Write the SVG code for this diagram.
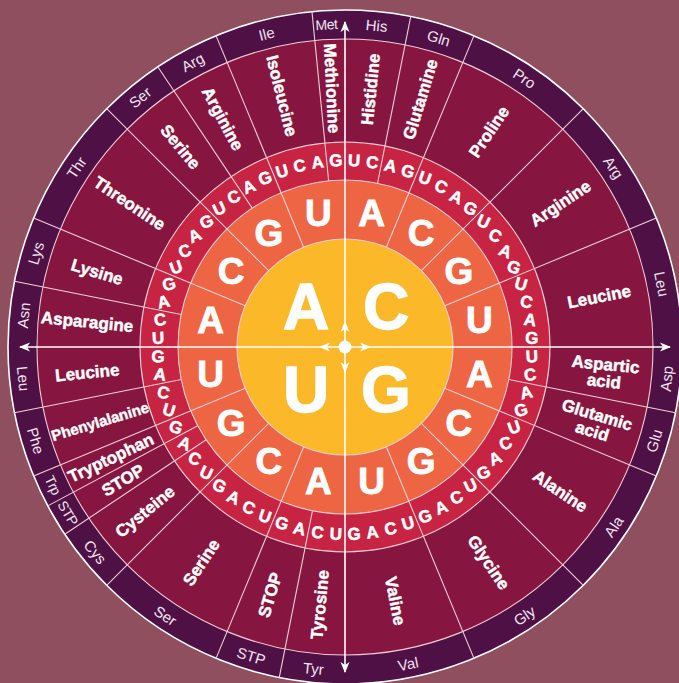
<svg xmlns="http://www.w3.org/2000/svg" width="679" height="683" viewBox="0 0 679 683">
<style>
.nm{font-family:"Liberation Sans",Arial,sans-serif;font-weight:bold;font-size:17px;fill:#fff;stroke:#fff;stroke-width:0.45;text-anchor:middle}
.ab{font-family:"Liberation Sans",Arial,sans-serif;font-size:15px;fill:#f1e4ee;text-anchor:middle}
.nr{font-size:14px;letter-spacing:-0.4px}
.l3{font-family:"Liberation Sans",Arial,sans-serif;font-weight:bold;font-size:17px;fill:#fff;stroke:#fff;stroke-width:0.5;text-anchor:middle}
.l2{font-family:"Liberation Sans",Arial,sans-serif;font-weight:bold;font-size:37px;fill:#fff;stroke:#fff;stroke-width:0.9;text-anchor:middle}
.l1{font-family:"Liberation Sans",Arial,sans-serif;font-weight:bold;font-size:64px;fill:#fff;stroke:#fff;stroke-width:1.4;text-anchor:middle}
.dv{stroke:#f3cdd6;stroke-width:1.1;fill:none}
.rg{stroke:#f3cdd6;stroke-width:1.1}
.ax{stroke:#fff;stroke-width:1.6}
.ah{fill:#fff}
</style>
<defs>
<path id="ah" d="M0,0 L4.5,11 L0,8 L-4.5,11 Z"/>
</defs>
<rect width="679" height="683" fill="#8f4f5e"/>
<g id="rings">
<circle cx="345" cy="347" r="337" fill="#4f1046" stroke="#fff" stroke-width="1.6"/>
<circle class="rg" cx="345" cy="347" r="308" fill="#86163f"/>
<circle class="rg" cx="345" cy="347" r="205" fill="#c72342"/>
<circle class="rg" cx="345" cy="347" r="167" fill="#ee6543"/>
<circle class="rg" cx="345" cy="347" r="108" fill="#fbb92a"/>
</g>
<g id="connectors">
<g class="dv">
<line x1="345" y1="239" x2="345" y2="10" transform="rotate(22.5 345 347)"/>
<line x1="345" y1="239" x2="345" y2="10" transform="rotate(45 345 347)"/>
<line x1="345" y1="239" x2="345" y2="10" transform="rotate(67.5 345 347)"/>
<line x1="345" y1="239" x2="345" y2="10" transform="rotate(112.5 345 347)"/>
<line x1="345" y1="239" x2="345" y2="10" transform="rotate(135 345 347)"/>
<line x1="345" y1="239" x2="345" y2="10" transform="rotate(157.5 345 347)"/>
<line x1="345" y1="239" x2="345" y2="10" transform="rotate(202.5 345 347)"/>
<line x1="345" y1="239" x2="345" y2="10" transform="rotate(225 345 347)"/>
<line x1="345" y1="239" x2="345" y2="10" transform="rotate(247.5 345 347)"/>
<line x1="345" y1="239" x2="345" y2="10" transform="rotate(292.5 345 347)"/>
<line x1="345" y1="239" x2="345" y2="10" transform="rotate(315 345 347)"/>
<line x1="345" y1="239" x2="345" y2="10" transform="rotate(337.5 345 347)"/>
<line x1="345" y1="180" x2="345" y2="10" transform="rotate(11.25 345 347)"/>
<line x1="345" y1="180" x2="345" y2="10" transform="rotate(101.25 345 347)"/>
<line x1="345" y1="180" x2="345" y2="10" transform="rotate(191.25 345 347)"/>
<line x1="345" y1="180" x2="345" y2="10" transform="rotate(236.25 345 347)"/>
<line x1="345" y1="180" x2="345" y2="10" transform="rotate(241.875 345 347)"/>
<line x1="345" y1="180" x2="345" y2="10" transform="rotate(258.75 345 347)"/>
<line x1="345" y1="180" x2="345" y2="10" transform="rotate(281.25 345 347)"/>
<line x1="345" y1="180" x2="345" y2="10" transform="rotate(326.25 345 347)"/>
<line x1="345" y1="180" x2="345" y2="10" transform="rotate(354.375 345 347)"/>
</g>
<g id="axes">
<line class="ax" x1="345" y1="22" x2="345" y2="672"/>
<line class="ax" x1="20" y1="347" x2="670" y2="347"/>
<circle cx="345" cy="347" r="6.5" fill="#fff"/>
<use class="ah" href="#ah" transform="translate(345 321)"/>
<use class="ah" href="#ah" transform="rotate(90 345 347) translate(345 321)"/>
<use class="ah" href="#ah" transform="rotate(180 345 347) translate(345 321)"/>
<use class="ah" href="#ah" transform="rotate(270 345 347) translate(345 321)"/>
<use class="ah" href="#ah" transform="translate(345 21)"/>
<use class="ah" href="#ah" transform="rotate(90 345 347) translate(345 21)"/>
<use class="ah" href="#ah" transform="rotate(180 345 347) translate(345 21)"/>
<use class="ah" href="#ah" transform="rotate(270 345 347) translate(345 21)"/>
</g>
</g>
<g id="first-letter">
<text class="l1" x="306" y="329">A</text>
<text class="l1" x="386" y="329">C</text>
<text class="l1" x="306" y="412">U</text>
<text class="l1" x="386" y="412">G</text>
</g>
<g id="second-letter">
<text class="l2" y="13" transform="rotate(11.25 345 347) translate(345 210) rotate(-11.25)">A</text>
<text class="l2" y="13" transform="rotate(33.75 345 347) translate(345 210) rotate(-33.75)">C</text>
<text class="l2" y="13" transform="rotate(56.25 345 347) translate(345 210) rotate(-56.25)">G</text>
<text class="l2" y="13" transform="rotate(78.75 345 347) translate(345 210) rotate(-78.75)">U</text>
<text class="l2" y="13" transform="rotate(101.25 345 347) translate(345 210) rotate(-101.25)">A</text>
<text class="l2" y="13" transform="rotate(123.75 345 347) translate(345 210) rotate(-123.75)">C</text>
<text class="l2" y="13" transform="rotate(146.25 345 347) translate(345 210) rotate(-146.25)">G</text>
<text class="l2" y="13" transform="rotate(168.75 345 347) translate(345 210) rotate(-168.75)">U</text>
<text class="l2" y="13" transform="rotate(191.25 345 347) translate(345 210) rotate(-191.25)">A</text>
<text class="l2" y="13" transform="rotate(213.75 345 347) translate(345 210) rotate(-213.75)">C</text>
<text class="l2" y="13" transform="rotate(236.25 345 347) translate(345 210) rotate(-236.25)">G</text>
<text class="l2" y="13" transform="rotate(258.75 345 347) translate(345 210) rotate(-258.75)">U</text>
<text class="l2" y="13" transform="rotate(281.25 345 347) translate(345 210) rotate(-281.25)">A</text>
<text class="l2" y="13" transform="rotate(303.75 345 347) translate(345 210) rotate(-303.75)">C</text>
<text class="l2" y="13" transform="rotate(326.25 345 347) translate(345 210) rotate(-326.25)">G</text>
<text class="l2" y="13" transform="rotate(348.75 345 347) translate(345 210) rotate(-348.75)">U</text>
</g>
<g id="third-letter">
<text class="l3" y="6" transform="rotate(2.8125 345 347) translate(345 160) rotate(-0.3)">U</text>
<text class="l3" y="6" transform="rotate(8.4375 345 347) translate(345 160) rotate(-1.1)">C</text>
<text class="l3" y="6" transform="rotate(14.0625 345 347) translate(345 160) rotate(-2.3)">A</text>
<text class="l3" y="6" transform="rotate(19.6875 345 347) translate(345 160) rotate(-3.8)">G</text>
<text class="l3" y="6" transform="rotate(25.3125 345 347) translate(345 160) rotate(-6.0)">U</text>
<text class="l3" y="6" transform="rotate(30.9375 345 347) translate(345 160) rotate(-8.9)">C</text>
<text class="l3" y="6" transform="rotate(36.5625 345 347) translate(345 160) rotate(-12.7)">A</text>
<text class="l3" y="6" transform="rotate(42.1875 345 347) translate(345 160) rotate(-17.3)">G</text>
<text class="l3" y="6" transform="rotate(47.8125 345 347) translate(345 160) rotate(-22.9)">U</text>
<text class="l3" y="6" transform="rotate(53.4375 345 347) translate(345 160) rotate(-29.5)">C</text>
<text class="l3" y="6" transform="rotate(59.0625 345 347) translate(345 160) rotate(-37.1)">A</text>
<text class="l3" y="6" transform="rotate(64.6875 345 347) translate(345 160) rotate(-45.4)">G</text>
<text class="l3" y="6" transform="rotate(70.3125 345 347) translate(345 160) rotate(-54.4)">U</text>
<text class="l3" y="6" transform="rotate(75.9375 345 347) translate(345 160) rotate(-64.1)">C</text>
<text class="l3" y="6" transform="rotate(81.5625 345 347) translate(345 160) rotate(-74.3)">A</text>
<text class="l3" y="6" transform="rotate(87.1875 345 347) translate(345 160) rotate(-84.7)">G</text>
<text class="l3" y="6" transform="rotate(92.8125 345 347) translate(345 160) rotate(-95.3)">U</text>
<text class="l3" y="6" transform="rotate(98.4375 345 347) translate(345 160) rotate(-105.7)">C</text>
<text class="l3" y="6" transform="rotate(104.0625 345 347) translate(345 160) rotate(-115.9)">A</text>
<text class="l3" y="6" transform="rotate(109.6875 345 347) translate(345 160) rotate(-125.6)">G</text>
<text class="l3" y="6" transform="rotate(115.3125 345 347) translate(345 160) rotate(-134.6)">U</text>
<text class="l3" y="6" transform="rotate(120.9375 345 347) translate(345 160) rotate(-142.9)">C</text>
<text class="l3" y="6" transform="rotate(126.5625 345 347) translate(345 160) rotate(-150.5)">A</text>
<text class="l3" y="6" transform="rotate(132.1875 345 347) translate(345 160) rotate(-157.1)">G</text>
<text class="l3" y="6" transform="rotate(137.8125 345 347) translate(345 160) rotate(-162.7)">U</text>
<text class="l3" y="6" transform="rotate(143.4375 345 347) translate(345 160) rotate(-167.3)">C</text>
<text class="l3" y="6" transform="rotate(149.0625 345 347) translate(345 160) rotate(-171.1)">A</text>
<text class="l3" y="6" transform="rotate(154.6875 345 347) translate(345 160) rotate(-174.0)">G</text>
<text class="l3" y="6" transform="rotate(160.3125 345 347) translate(345 160) rotate(-176.2)">U</text>
<text class="l3" y="6" transform="rotate(165.9375 345 347) translate(345 160) rotate(-177.7)">C</text>
<text class="l3" y="6" transform="rotate(171.5625 345 347) translate(345 160) rotate(-178.9)">A</text>
<text class="l3" y="6" transform="rotate(177.1875 345 347) translate(345 160) rotate(-179.7)">G</text>
<text class="l3" y="6" transform="rotate(182.8125 345 347) translate(345 160) rotate(-180.3)">U</text>
<text class="l3" y="6" transform="rotate(188.4375 345 347) translate(345 160) rotate(-181.1)">C</text>
<text class="l3" y="6" transform="rotate(194.0625 345 347) translate(345 160) rotate(-182.3)">A</text>
<text class="l3" y="6" transform="rotate(199.6875 345 347) translate(345 160) rotate(-183.8)">G</text>
<text class="l3" y="6" transform="rotate(205.3125 345 347) translate(345 160) rotate(-186.0)">U</text>
<text class="l3" y="6" transform="rotate(210.9375 345 347) translate(345 160) rotate(-188.9)">C</text>
<text class="l3" y="6" transform="rotate(216.5625 345 347) translate(345 160) rotate(-192.7)">A</text>
<text class="l3" y="6" transform="rotate(222.1875 345 347) translate(345 160) rotate(-197.3)">G</text>
<text class="l3" y="6" transform="rotate(227.8125 345 347) translate(345 160) rotate(-202.9)">U</text>
<text class="l3" y="6" transform="rotate(233.4375 345 347) translate(345 160) rotate(-209.5)">C</text>
<text class="l3" y="6" transform="rotate(239.0625 345 347) translate(345 160) rotate(-217.1)">A</text>
<text class="l3" y="6" transform="rotate(244.6875 345 347) translate(345 160) rotate(-225.4)">G</text>
<text class="l3" y="6" transform="rotate(250.3125 345 347) translate(345 160) rotate(-234.4)">U</text>
<text class="l3" y="6" transform="rotate(255.9375 345 347) translate(345 160) rotate(-244.1)">C</text>
<text class="l3" y="6" transform="rotate(261.5625 345 347) translate(345 160) rotate(-254.3)">A</text>
<text class="l3" y="6" transform="rotate(267.1875 345 347) translate(345 160) rotate(-264.7)">G</text>
<text class="l3" y="6" transform="rotate(272.8125 345 347) translate(345 160) rotate(-275.3)">U</text>
<text class="l3" y="6" transform="rotate(278.4375 345 347) translate(345 160) rotate(-285.7)">C</text>
<text class="l3" y="6" transform="rotate(284.0625 345 347) translate(345 160) rotate(-295.9)">A</text>
<text class="l3" y="6" transform="rotate(289.6875 345 347) translate(345 160) rotate(-305.6)">G</text>
<text class="l3" y="6" transform="rotate(295.3125 345 347) translate(345 160) rotate(-314.6)">U</text>
<text class="l3" y="6" transform="rotate(300.9375 345 347) translate(345 160) rotate(-322.9)">C</text>
<text class="l3" y="6" transform="rotate(306.5625 345 347) translate(345 160) rotate(-330.5)">A</text>
<text class="l3" y="6" transform="rotate(312.1875 345 347) translate(345 160) rotate(-337.1)">G</text>
<text class="l3" y="6" transform="rotate(317.8125 345 347) translate(345 160) rotate(-342.7)">U</text>
<text class="l3" y="6" transform="rotate(323.4375 345 347) translate(345 160) rotate(-347.3)">C</text>
<text class="l3" y="6" transform="rotate(329.0625 345 347) translate(345 160) rotate(-351.1)">A</text>
<text class="l3" y="6" transform="rotate(334.6875 345 347) translate(345 160) rotate(-354.0)">G</text>
<text class="l3" y="6" transform="rotate(340.3125 345 347) translate(345 160) rotate(-356.2)">U</text>
<text class="l3" y="6" transform="rotate(345.9375 345 347) translate(345 160) rotate(-357.7)">C</text>
<text class="l3" y="6" transform="rotate(351.5625 345 347) translate(345 160) rotate(-358.9)">A</text>
<text class="l3" y="6" transform="rotate(357.1875 345 347) translate(345 160) rotate(-359.7)">G</text>
</g>
<g id="amino-acids">
<text class="nm" x="604" y="353" transform="rotate(-84.375 345 347)">Histidine</text>
<text class="nm" x="604" y="353" transform="rotate(-73.125 345 347)">Glutamine</text>
<text class="nm" x="604" y="353" transform="rotate(-56.25 345 347)">Proline</text>
<text class="nm" x="604" y="353" transform="rotate(-33.75 345 347)">Arginine</text>
<text class="nm" x="604" y="353" transform="rotate(-11.25 345 347)">Leucine</text>
<g transform="rotate(5.625 345 347)"><text class="nm" x="606" y="344.5">Aspartic</text><text class="nm" x="606" y="361.5">acid</text></g>
<g transform="rotate(16.875 345 347)"><text class="nm" x="606" y="344.5">Glutamic</text><text class="nm" x="606" y="361.5">acid</text></g>
<text class="nm" x="604" y="353" transform="rotate(33.75 345 347)">Alanine</text>
<text class="nm" x="604" y="353" transform="rotate(56.25 345 347)">Glycine</text>
<text class="nm" x="604" y="353" transform="rotate(78.75 345 347)">Valine</text>
<text class="nm" x="86" y="353" transform="rotate(-84.375 345 347)">Tyrosine</text>
<text class="nm" x="86" y="353" transform="rotate(-73.125 345 347)">STOP</text>
<text class="nm" x="86" y="353" transform="rotate(-56.25 345 347)">Serine</text>
<text class="nm" x="86" y="353" transform="rotate(-39.375 345 347)">Cysteine</text>
<text class="nm" x="86" y="353" transform="rotate(-30.9375 345 347)">STOP</text>
<text class="nm" x="86" y="353" transform="rotate(-25.3125 345 347)">Tryptophan</text>
<text class="nm" x="89" y="352.5" style="font-size:15px" transform="rotate(-16.875 345 347)">Phenylalanine</text>
<text class="nm" x="86" y="353" transform="rotate(-5.625 345 347)">Leucine</text>
<text class="nm" x="86" y="353" transform="rotate(5.625 345 347)">Asparagine</text>
<text class="nm" x="86" y="353" transform="rotate(16.875 345 347)">Lysine</text>
<text class="nm" x="86" y="353" transform="rotate(33.75 345 347)">Threonine</text>
<text class="nm" x="86" y="353" transform="rotate(50.625 345 347)">Serine</text>
<text class="nm" x="86" y="353" transform="rotate(61.875 345 347)">Arginine</text>
<text class="nm" x="86" y="353" transform="rotate(75.9375 345 347)">Isoleucine</text>
<text class="nm" x="86" y="353" transform="rotate(87.1875 345 347)">Methionine</text>
</g>
<g id="abbreviations">
<text class="ab" x="345" y="29.5" transform="rotate(5.625 345 347)">His</text>
<text class="ab" x="345" y="29.5" transform="rotate(16.875 345 347)">Gln</text>
<text class="ab" x="345" y="29.5" transform="rotate(33.75 345 347)">Pro</text>
<text class="ab" x="345" y="29.5" transform="rotate(56.25 345 347)">Arg</text>
<text class="ab" x="345" y="29.5" transform="rotate(78.75 345 347)">Leu</text>
<text class="ab" x="345" y="675.5" transform="rotate(-84.375 345 347)">Asp</text>
<text class="ab" x="345" y="675.5" transform="rotate(-73.125 345 347)">Glu</text>
<text class="ab" x="345" y="675.5" transform="rotate(-56.25 345 347)">Ala</text>
<text class="ab" x="345" y="675.5" transform="rotate(-33.75 345 347)">Gly</text>
<text class="ab" x="345" y="675.5" transform="rotate(-11.25 345 347)">Val</text>
<text class="ab" x="345" y="675.5" transform="rotate(5.625 345 347)">Tyr</text>
<text class="ab" x="345" y="675.5" transform="rotate(16.875 345 347)">STP</text>
<text class="ab" x="345" y="675.5" transform="rotate(33.75 345 347)">Ser</text>
<text class="ab" x="345" y="675.5" transform="rotate(50.625 345 347)">Cys</text>
<text class="ab nr" x="345" y="675" transform="rotate(59.0625 345 347)">STP</text>
<text class="ab nr" x="345" y="675" transform="rotate(64.6875 345 347)">Trp</text>
<text class="ab" x="345" y="675.5" transform="rotate(73.125 345 347)">Phe</text>
<text class="ab" x="345" y="675.5" transform="rotate(84.375 345 347)">Leu</text>
<text class="ab" x="345" y="29.5" transform="rotate(-84.375 345 347)">Asn</text>
<text class="ab" x="345" y="29.5" transform="rotate(-73.125 345 347)">Lys</text>
<text class="ab" x="345" y="29.5" transform="rotate(-56.25 345 347)">Thr</text>
<text class="ab" x="345" y="29.5" transform="rotate(-39.375 345 347)">Ser</text>
<text class="ab" x="345" y="29.5" transform="rotate(-28.125 345 347)">Arg</text>
<text class="ab" x="345" y="29.5" transform="rotate(-14.0625 345 347)">Ile</text>
<text class="ab nr" x="345" y="29" transform="rotate(-3.3 345 347)">Met</text>
</g>
</svg>
